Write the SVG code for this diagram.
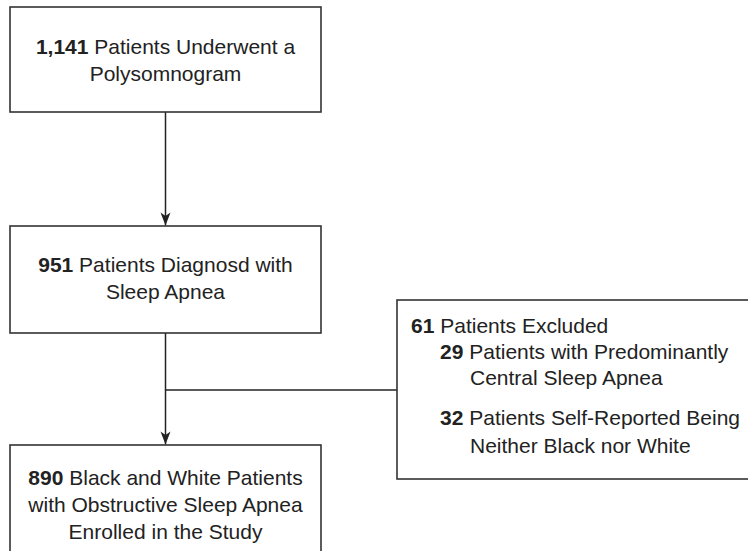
<svg xmlns="http://www.w3.org/2000/svg" width="748" height="551" viewBox="0 0 748 551">
<style>
.box{fill:#fff;stroke:#333;stroke-width:1.6}
.ln{fill:none;stroke:#222;stroke-width:1.5}
text{font-family:"Liberation Sans",Arial,Helvetica,sans-serif;font-size:21px;fill:#222}
.c{text-anchor:middle}
.b{font-weight:bold}
</style>
<defs>
<marker id="ah" markerUnits="userSpaceOnUse" markerWidth="16" markerHeight="12" viewBox="-14 -6 16 12" refX="0" refY="0" orient="auto">
<path d="M0,0 L-13,-5 L-9.5,0 L-13,5 Z" fill="#222"/>
</marker>
</defs>
<rect width="748" height="551" fill="#fff"/>
<g id="connectors">
<line class="ln" x1="165.5" y1="112" x2="165.5" y2="225.5" marker-end="url(#ah)"/>
<line class="ln" x1="165.5" y1="333" x2="165.5" y2="444.5" marker-end="url(#ah)"/>
<line class="ln" x1="165.5" y1="390" x2="397" y2="390"/>
</g>
<g id="n1">
<rect class="box" x="10" y="7" width="311" height="105"/>
<text class="c" x="165.5" y="54"><tspan class="b">1,141</tspan> Patients Underwent a</text>
<text class="c" x="165.5" y="81">Polysomnogram</text>
</g>
<g id="n2">
<rect class="box" x="10" y="226" width="311" height="107"/>
<text class="c" x="165.5" y="272"><tspan class="b">951</tspan> Patients Diagnosd with</text>
<text class="c" x="165.5" y="299">Sleep Apnea</text>
</g>
<g id="n3">
<rect class="box" x="10" y="445" width="311" height="130"/>
<text class="c" x="165.5" y="485"><tspan class="b">890</tspan> Black and White Patients</text>
<text class="c" x="165.5" y="512">with Obstructive Sleep Apnea</text>
<text class="c" x="165.5" y="539">Enrolled in the Study</text>
</g>
<g id="n4">
<rect class="box" x="397" y="300" width="380" height="179"/>
<text x="411" y="333"><tspan class="b">61</tspan> Patients Excluded</text>
<text x="440" y="359"><tspan class="b">29</tspan> Patients with Predominantly</text>
<text x="470" y="385">Central Sleep Apnea</text>
<text x="440" y="425"><tspan class="b">32</tspan> Patients Self-Reported Being</text>
<text x="470" y="453">Neither Black nor White</text>
</g>
</svg>
